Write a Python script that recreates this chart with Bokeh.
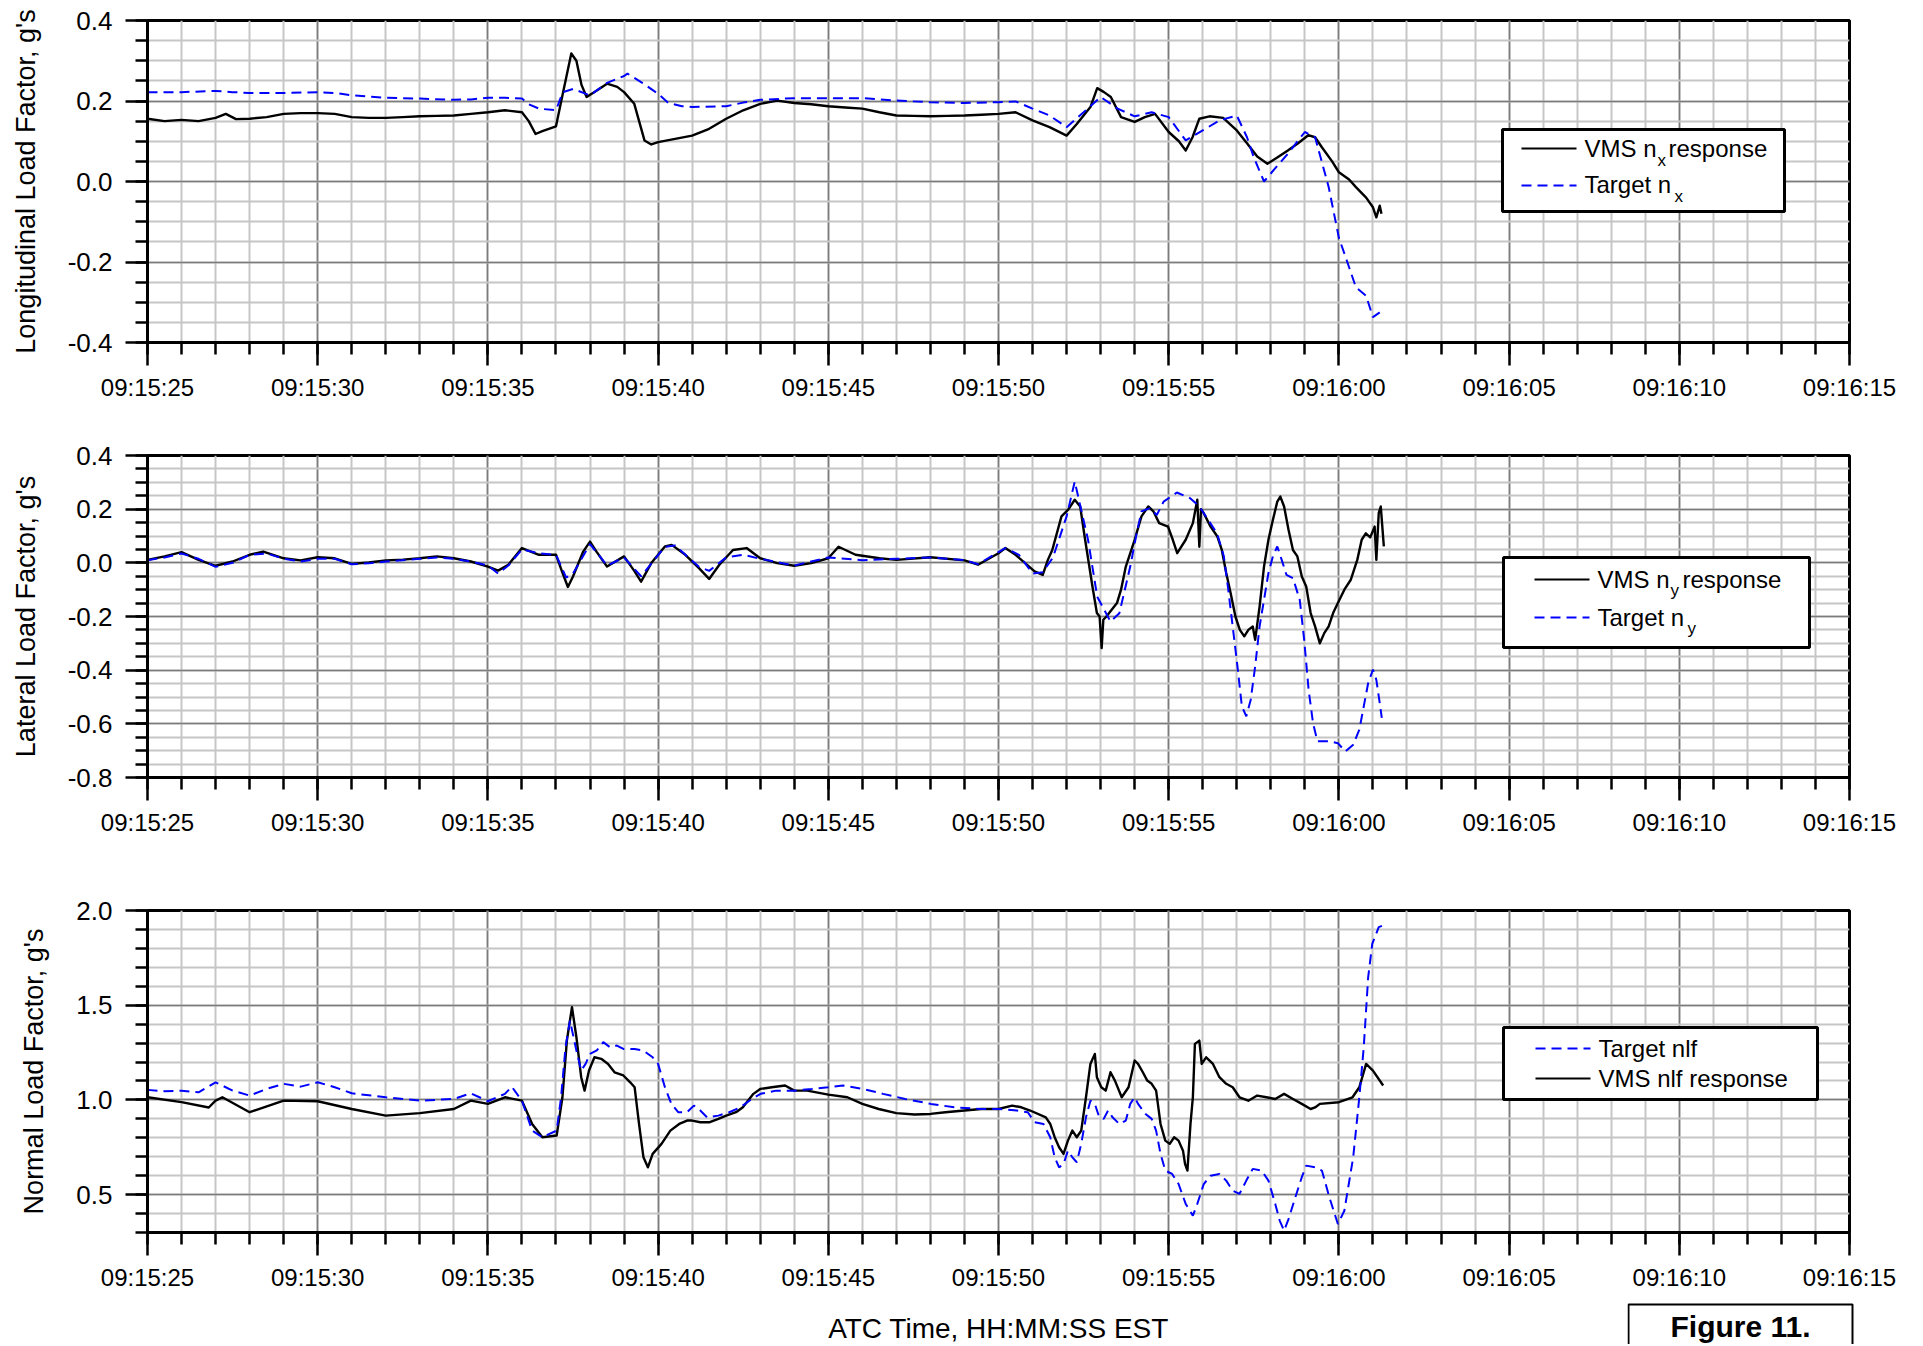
import numpy as np
from bokeh.plotting import figure
from bokeh.layouts import column, row
from bokeh.models import FixedTicker, Label, BoxAnnotation, Arrow
from bokeh.embed import file_html
from bokeh.resources import INLINE

FONT = "Liberation Sans"

# ---------------- data (time = seconds after 09:15:25) ----------------
x_ticks = [0, 5, 10, 15, 20, 25, 30, 35, 40, 45, 50]
x_tick_labels = ["09:15:25", "09:15:30", "09:15:35", "09:15:40", "09:15:45", "09:15:50",
                 "09:15:55", "09:16:00", "09:16:05", "09:16:10", "09:16:15"]

nx_y_ticks = [-0.4, -0.2, 0.0, 0.2, 0.4]
nx_y_labels = ["-0.4", "-0.2", "0.0", "0.2", "0.4"]
ny_y_ticks = [-0.8, -0.6, -0.4, -0.2, 0.0, 0.2, 0.4]
ny_y_labels = ["-0.8", "-0.6", "-0.4", "-0.2", "0.0", "0.2", "0.4"]
nz_y_ticks = [0.5, 1.0, 1.5, 2.0]
nz_y_labels = ["0.5", "1.0", "1.5", "2.0"]

nx_vms_t = [0.0, 0.5, 1.0, 1.5, 2.0, 2.3, 2.6, 3.0, 3.5, 4.0, 4.5, 5.0, 5.5, 6.0, 6.5, 7.0, 7.5, 8.0,
            8.5, 9.0, 9.5, 10.0, 10.5, 11.0, 11.2, 11.4, 11.6, 12.0, 12.2, 12.45, 12.6, 12.75, 12.9,
            13.2, 13.5, 13.8, 14.0, 14.3, 14.6, 14.8, 15.0, 15.5, 16.0, 16.5, 17.0, 17.5, 18.0, 18.5,
            19.0, 19.5, 20.0, 20.5, 21.0, 21.5, 22.0, 22.5, 23.0, 23.5, 24.0, 24.5, 25.0, 25.5, 26.0,
            26.5, 27.0, 27.3, 27.7, 27.9, 28.1, 28.3, 28.6, 29.0, 29.3, 29.6, 30.0, 30.3, 30.5, 30.7,
            30.9, 31.2, 31.6, 32.0, 32.3, 32.6, 32.9, 33.2, 33.5, 33.8, 34.1, 34.3, 34.5, 34.8, 35.0,
            35.3, 35.5, 35.8, 36.0, 36.1, 36.2, 36.25]
nx_vms = [0.156, 0.150, 0.153, 0.150, 0.158, 0.168, 0.155, 0.156, 0.160, 0.168, 0.170, 0.170, 0.168,
          0.160, 0.158, 0.158, 0.160, 0.162, 0.163, 0.164, 0.168, 0.172, 0.177, 0.172, 0.150, 0.118,
          0.125, 0.137, 0.218, 0.318, 0.300, 0.240, 0.210, 0.226, 0.243, 0.235, 0.222, 0.193, 0.102,
          0.092, 0.098, 0.106, 0.114, 0.131, 0.156, 0.177, 0.193, 0.201, 0.195, 0.192, 0.187, 0.184,
          0.181, 0.172, 0.164, 0.163, 0.162, 0.163, 0.164, 0.166, 0.168, 0.172, 0.152, 0.135, 0.114,
          0.143, 0.185, 0.232, 0.222, 0.210, 0.160, 0.148, 0.160, 0.168, 0.123, 0.100, 0.077, 0.110,
          0.156, 0.162, 0.158, 0.127, 0.095, 0.062, 0.044, 0.060, 0.077, 0.095, 0.115, 0.110, 0.085,
          0.050, 0.023, 0.005, -0.014, -0.040, -0.064, -0.089, -0.060, -0.080]

nx_tgt_t = [0.0, 1.0, 2.0, 2.5, 3.0, 4.0, 5.0, 5.5, 6.0, 7.0, 8.0, 9.0, 9.5, 10.0, 10.5, 11.0, 11.2,
            11.5, 12.0, 12.2, 12.5, 13.0, 13.5, 14.0, 14.1, 14.5, 15.0, 15.3, 15.7, 16.0, 17.0, 17.5,
            18.0, 19.0, 20.0, 21.0, 22.0, 23.0, 24.0, 25.0, 25.5, 26.0, 26.5, 27.0, 27.5, 28.0, 28.5,
            29.0, 29.5, 30.0, 30.5, 31.0, 31.5, 32.0, 32.3, 32.5, 32.8, 33.1, 33.5, 34.0, 34.3, 34.7,
            35.0, 35.3, 35.5, 35.8, 36.0, 36.2]
nx_tgt = [0.222, 0.222, 0.225, 0.222, 0.220, 0.220, 0.222, 0.220, 0.214, 0.208, 0.206, 0.203, 0.204,
          0.208, 0.208, 0.206, 0.192, 0.181, 0.177, 0.222, 0.230, 0.214, 0.245, 0.262, 0.268, 0.247,
          0.218, 0.195, 0.187, 0.185, 0.187, 0.196, 0.203, 0.207, 0.207, 0.207, 0.201, 0.197, 0.195,
          0.197, 0.199, 0.181, 0.164, 0.135, 0.172, 0.210, 0.181, 0.162, 0.172, 0.160, 0.102, 0.127,
          0.152, 0.164, 0.110, 0.060, 0.000, 0.030, 0.069, 0.123, 0.110, -0.014, -0.140, -0.213,
          -0.263, -0.284, -0.337, -0.325]

ny_vms_t = [0.0, 0.5, 1.0, 1.5, 2.0, 2.5, 3.0, 3.4, 4.0, 4.5, 5.0, 5.5, 6.0, 6.5, 7.0, 7.5, 8.0, 8.5,
            9.0, 9.5, 10.0, 10.3, 10.6, 11.0, 11.5, 12.0, 12.2, 12.35, 12.5, 12.8, 13.0, 13.2, 13.5,
            14.0, 14.3, 14.5, 14.8, 15.2, 15.4, 15.8, 16.2, 16.5, 16.8, 17.2, 17.6, 18.0, 18.5, 19.0,
            19.5, 20.0, 20.3, 20.8, 21.5, 22.0, 23.0, 24.0, 24.4, 25.0, 25.2, 25.5, 26.06, 26.3,
            26.45, 26.58, 26.85, 27.04, 27.24, 27.4, 27.53, 27.76, 27.89, 27.97, 28.03, 28.08, 28.17,
            28.48, 28.6, 28.74, 29.0, 29.2, 29.4, 29.55, 29.72, 29.98, 30.12, 30.25, 30.5, 30.71,
            30.84, 30.9, 30.95, 31.03, 31.23, 31.43, 31.56, 31.69, 31.82, 31.96, 32.09, 32.22, 32.34,
            32.47, 32.54, 32.67, 32.8, 32.93, 33.06, 33.19, 33.28, 33.39, 33.52, 33.65, 33.78, 33.91,
            34.04, 34.17, 34.3, 34.44, 34.57, 34.7, 34.83, 34.97, 35.16, 35.35, 35.54, 35.67, 35.79,
            35.92, 36.05, 36.1, 36.17, 36.23, 36.32]
ny_vms = [0.011, 0.024, 0.040, 0.011, -0.011, 0.005, 0.030, 0.042, 0.017, 0.009, 0.021, 0.017,
          -0.004, 0.001, 0.009, 0.012, 0.017, 0.024, 0.017, 0.005, -0.014, -0.029, -0.007, 0.055,
          0.030, 0.030, -0.040, -0.090, -0.051, 0.042, 0.079, 0.040, -0.014, 0.024, -0.030, -0.070,
          -0.001, 0.061, 0.067, 0.030, -0.020, -0.060, -0.007, 0.048, 0.055, 0.017, -0.001, -0.011,
          -0.001, 0.017, 0.060, 0.030, 0.017, 0.011, 0.021, 0.009, -0.007, 0.036, 0.055, 0.030,
          -0.032, -0.045, 0.011, 0.048, 0.173, 0.197, 0.235, 0.210, 0.098, -0.088, -0.187, -0.200,
          -0.318, -0.212, -0.200, -0.150, -0.100, -0.014, 0.086, 0.173, 0.210, 0.192, 0.148, 0.135,
          0.086, 0.036, 0.086, 0.148, 0.235, 0.060, 0.200, 0.185, 0.135, 0.098, 0.048, -0.038,
          -0.113, -0.200, -0.250, -0.274, -0.250, -0.237, -0.287, -0.163, -0.014, 0.086, 0.160,
          0.228, 0.247, 0.210, 0.123, 0.048, 0.024, -0.051, -0.088, -0.187, -0.237, -0.300, -0.262,
          -0.237, -0.187, -0.150, -0.100, -0.063, 0.011, 0.086, 0.110, 0.095, 0.135, 0.011, 0.185,
          0.210, 0.061]

ny_tgt_t = [0.0, 0.5, 1.0, 1.5, 2.0, 2.5, 3.0, 3.5, 4.0, 4.5, 5.0, 5.5, 6.0, 6.5, 7.0, 8.0, 8.5, 9.0,
            9.5, 10.0, 10.3, 10.6, 11.0, 11.5, 12.0, 12.3, 12.5, 13.0, 13.5, 14.0, 14.5, 15.2, 15.5,
            15.8, 16.2, 16.5, 17.0, 17.5, 18.0, 19.0, 20.0, 21.0, 22.0, 23.0, 24.0, 24.4, 25.2, 25.6,
            26.0, 26.3, 26.6, 27.0, 27.24, 27.63, 27.9, 28.29, 28.55, 28.87, 29.06, 29.2, 29.45,
            29.65, 29.85, 30.24, 30.63, 30.9, 31.16, 31.42, 31.62, 31.75, 31.88, 32.02, 32.15, 32.28,
            32.41, 32.54, 32.67, 32.8, 32.93, 33.06, 33.19, 33.32, 33.46, 33.65, 33.85, 33.98, 34.11,
            34.24, 34.37, 34.72, 34.97, 35.19, 35.42, 35.6, 35.73, 35.86, 36.0, 36.1, 36.2, 36.26]
ny_tgt = [0.010, 0.020, 0.035, 0.015, -0.015, 0.000, 0.030, 0.035, 0.015, 0.005, 0.015, 0.015,
          -0.005, -0.002, 0.005, 0.015, 0.020, 0.015, 0.005, -0.010, -0.040, -0.010, 0.050, 0.035,
          0.030, -0.055, -0.040, 0.070, -0.010, 0.020, -0.050, 0.060, 0.065, 0.030, -0.015, -0.030,
          0.020, 0.030, 0.015, -0.010, 0.020, 0.010, 0.015, 0.020, 0.010, -0.005, 0.055, 0.030,
          -0.040, -0.035, 0.020, 0.173, 0.303, 0.086, -0.126, -0.219, -0.188, -0.014, 0.111, 0.192,
          0.204, 0.178, 0.228, 0.262, 0.241, 0.210, 0.160, 0.110, 0.024, -0.100, -0.237, -0.386,
          -0.535, -0.572, -0.510, -0.386, -0.237, -0.138, -0.038, 0.024, 0.061, 0.011, -0.045, -0.057,
          -0.138, -0.287, -0.473, -0.597, -0.665, -0.665, -0.672, -0.703, -0.678, -0.622, -0.535,
          -0.448, -0.398, -0.436, -0.523, -0.578]

nz_vms_t = [0.0, 1.0, 1.8, 2.0, 2.2, 3.0, 4.0, 5.0, 6.0, 7.0, 8.0, 9.0, 9.5, 10.0, 10.5, 11.0, 11.3,
            11.6, 12.02, 12.19, 12.32, 12.47, 12.6, 12.74, 12.84, 12.97, 13.13, 13.33, 13.53, 13.72,
            13.98, 14.18, 14.31, 14.44, 14.57, 14.7, 14.84, 15.1, 15.36, 15.62, 15.85, 16.0, 16.24,
            16.5, 16.77, 17.0, 17.29, 17.49, 17.8, 18.0, 18.34, 18.73, 19.0, 19.38, 20.0, 20.56,
            21.0, 21.48, 22.0, 22.53, 23.0, 23.44, 24.0, 24.49, 25.0, 25.4, 25.67, 25.93, 26.39,
            26.52, 26.65, 26.78, 26.91, 27.04, 27.17, 27.3, 27.43, 27.57, 27.7, 27.83, 27.89, 28.02,
            28.15, 28.29, 28.42, 28.62, 28.82, 29.0, 29.1, 29.24, 29.37, 29.5, 29.63, 29.76, 29.9,
            30.03, 30.16, 30.29, 30.42, 30.48, 30.55, 30.64, 30.71, 30.77, 30.9, 30.97, 31.1, 31.3,
            31.49, 31.69, 31.88, 32.08, 32.34, 32.6, 32.87, 33.13, 33.39, 33.65, 33.91, 34.17, 34.3,
            34.44, 35.0, 35.4, 35.6, 35.8, 36.0, 36.3]
nz_vms = [1.014, 0.988, 0.960, 0.996, 1.014, 0.935, 0.996, 0.993, 0.952, 0.917, 0.930, 0.952, 0.996,
          0.979, 1.014, 0.996, 0.873, 0.803, 0.812, 1.014, 1.313, 1.490, 1.331, 1.120, 1.049, 1.155,
          1.225, 1.217, 1.190, 1.146, 1.129, 1.093, 1.067, 0.873, 0.697, 0.644, 0.715, 0.768, 0.838,
          0.873, 0.891, 0.891, 0.882, 0.882, 0.900, 0.917, 0.935, 0.961, 1.032, 1.058, 1.067, 1.076,
          1.049, 1.049, 1.028, 1.014, 0.979, 0.952, 0.930, 0.923, 0.926, 0.935, 0.944, 0.952, 0.952,
          0.970, 0.961, 0.944, 0.908, 0.873, 0.803, 0.750, 0.715, 0.785, 0.838, 0.803, 0.838, 1.014,
          1.190, 1.243, 1.120, 1.067, 1.049, 1.146, 1.102, 1.014, 1.067, 1.208, 1.190, 1.146, 1.102,
          1.085, 1.049, 0.873, 0.785, 0.768, 0.803, 0.785, 0.732, 0.662, 0.627, 0.873, 1.014, 1.296,
          1.313, 1.190, 1.225, 1.190, 1.120, 1.085, 1.067, 1.014, 0.996, 1.023, 1.014, 1.005, 1.032,
          1.005, 0.979, 0.952, 0.960, 0.979, 0.988, 1.014, 1.067, 1.190, 1.155, 1.076]

nz_tgt_t = [0.0, 0.5, 1.0, 1.5, 2.0, 2.5, 3.0, 3.5, 4.0, 4.5, 5.0, 5.5, 6.0, 7.0, 8.0, 9.0, 9.5, 10.0,
            10.5, 10.7, 11.0, 11.3, 11.6, 12.02, 12.15, 12.28, 12.41, 12.6, 12.74, 12.87, 13.0, 13.2,
            13.39, 13.59, 13.79, 13.98, 14.31, 14.57, 14.84, 15.0, 15.2, 15.39, 15.59, 15.85, 16.05,
            16.24, 16.44, 16.77, 17.09, 17.42, 17.75, 18.01, 18.47, 19.0, 19.52, 20.0, 20.43, 21.02,
            21.61, 22.26, 23.01, 23.7, 24.49, 25.0, 25.54, 25.86, 26.06, 26.32, 26.52, 26.65, 26.78,
            26.91, 27.04, 27.17, 27.3, 27.43, 27.57, 27.7, 27.83, 27.96, 28.09, 28.22, 28.35, 28.55,
            28.74, 28.87, 29.0, 29.1, 29.32, 29.5, 29.63, 29.76, 29.9, 30.1, 30.29, 30.5, 30.71,
            30.84, 31.03, 31.23, 31.49, 31.69, 31.88, 32.08, 32.28, 32.47, 32.73, 32.93, 33.13,
            33.26, 33.39, 33.52, 33.72, 33.91, 34.04, 34.3, 34.5, 34.72, 34.97, 35.16, 35.42, 35.6,
            35.73, 35.86, 35.98, 36.17, 36.3]
nz_tgt = [1.053, 1.046, 1.049, 1.040, 1.093, 1.049, 1.023, 1.058, 1.085, 1.070, 1.093, 1.067, 1.035,
          1.014, 0.996, 1.005, 1.035, 0.993, 1.032, 1.070, 0.996, 0.838, 0.803, 0.838, 1.014, 1.278,
          1.419, 1.261, 1.155, 1.190, 1.243, 1.261, 1.305, 1.278, 1.287, 1.269, 1.269, 1.260, 1.225,
          1.190, 1.067, 0.979, 0.935, 0.935, 0.970, 0.944, 0.908, 0.917, 0.935, 0.961, 1.005, 1.032,
          1.049, 1.049, 1.058, 1.067, 1.076, 1.058, 1.032, 1.005, 0.979, 0.961, 0.952, 0.952, 0.944,
          0.935, 0.882, 0.873, 0.803, 0.697, 0.644, 0.662, 0.732, 0.697, 0.671, 0.768, 0.908, 0.996,
          0.979, 0.908, 0.900, 0.944, 0.908, 0.873, 0.891, 0.979, 1.014, 0.979, 0.926, 0.900, 0.838,
          0.715, 0.627, 0.609, 0.556, 0.451, 0.389, 0.451, 0.556, 0.600, 0.609, 0.574, 0.521, 0.504,
          0.574, 0.636, 0.627, 0.574, 0.451, 0.363, 0.310, 0.371, 0.486, 0.592, 0.653, 0.644, 0.627,
          0.486, 0.345, 0.415, 0.697, 1.014, 1.278, 1.648, 1.824, 1.912, 1.921]

# ---------------- layout constants (page pixels, page has no margin) ----------------
FRAME_L = 147
FIG_W = 1920
BORDER_L = 147
BORDER_R = FIG_W - 147 - 1702
X_MINOR = list(range(0, 51))

BLACK = "#000000"
BLUE = "#0000ff"
DASH = "10 6"
VMS_W = 2.4


def base_shift(size_px):
    # Bokeh draws "alphabetic" labels lower than the nominal baseline; compensate
    return round(0.37 * size_px)


def make_panel(height, b_top, b_bottom, yr, yticks, ylabels, ystep, ylab):
    p = figure(width=FIG_W, height=height, x_range=(0, 50), y_range=yr,
               output_backend="svg", toolbar_location=None,
               min_border_left=BORDER_L, min_border_right=BORDER_R,
               min_border_top=b_top, min_border_bottom=b_bottom)
    p.background_fill_color = "white"
    p.border_fill_color = "white"
    p.outline_line_color = "black"
    p.outline_line_width = 3
    p.outline_line_alpha = 1.0

    n = int(round((yr[1] - yr[0]) / ystep))
    yminor = [round(yr[0] + i * ystep, 4) for i in range(n + 1)]
    xt = FixedTicker(ticks=x_ticks, minor_ticks=X_MINOR)
    yt = FixedTicker(ticks=yticks, minor_ticks=yminor)
    p.xaxis.ticker = xt
    p.yaxis.ticker = yt
    p.xgrid.ticker = xt
    p.ygrid.ticker = yt
    p.xaxis.major_label_overrides = {v: s for v, s in zip(x_ticks, x_tick_labels)}
    p.yaxis.major_label_overrides = {v: s for v, s in zip(yticks, ylabels)}

    for g in (p.xgrid, p.ygrid):
        g.grid_line_color = "#7c7c7c"
        g.grid_line_width = 1.6
        g.minor_grid_line_color = "#c6c6c6"
        g.minor_grid_line_width = 2

    for ax in (p.xaxis, p.yaxis):
        ax.axis_line_width = 3
        ax.axis_line_color = "black"
        ax.major_tick_line_width = 2.5
        ax.minor_tick_line_width = 2.5
        ax.major_tick_line_color = "black"
        ax.minor_tick_line_color = "black"
        ax.major_tick_in = 0
        ax.minor_tick_in = 0
        ax.major_label_text_font = FONT
        ax.major_label_text_color = "black"
        ax.axis_label_text_font = FONT
        ax.axis_label_text_font_style = "normal"
        ax.axis_label_text_font_size = "27px"
        ax.axis_label_text_color = "black"
    p.xaxis.major_tick_out = 23
    p.xaxis.minor_tick_out = 12
    p.yaxis.major_tick_out = 22
    p.yaxis.minor_tick_out = 12
    p.xaxis.major_label_text_font_size = "24px"
    p.yaxis.major_label_text_font_size = "26px"
    p.xaxis.major_label_standoff = 8
    p.yaxis.major_label_standoff = 13
    p.yaxis.axis_label = ylab
    p.yaxis.axis_label_standoff = 24
    return p


def add_legend(p, frame_bottom, box, line_x, rows):
    def sx(x):
        return x - FRAME_L

    def sy(y):
        return frame_bottom - y

    p.add_layout(BoxAnnotation(left=sx(box[0]), right=sx(box[1]), top=sy(box[2]), bottom=sy(box[3]),
                               left_units="screen", right_units="screen",
                               top_units="screen", bottom_units="screen",
                               fill_color="white", fill_alpha=1.0,
                               line_color="black", line_width=3, line_alpha=1.0))
    for (ly, color, dash, pieces) in rows:
        p.add_layout(Arrow(x_start=sx(line_x[0]), y_start=sy(ly), x_end=sx(line_x[1]), y_end=sy(ly),
                           start_units="screen", end_units="screen", start=None, end=None,
                           line_color=color, line_width=2, line_dash=dash))
        for (txt, tx, base, size) in pieces:
            p.add_layout(Label(x=sx(tx), y=sy(base) + base_shift(size), x_units="screen",
                               y_units="screen", text=txt,
                               text_font=FONT, text_font_size=f"{size}px", text_color="black",
                               text_align="left", text_baseline="alphabetic"))


# ---------------- panel 1: longitudinal ----------------
p1 = make_panel(435, 20, 93, (-0.4, 0.4), nx_y_ticks, nx_y_labels, 0.05,
                "Longitudinal Load Factor, g's")
p1.line(nx_vms_t, nx_vms, line_color=BLACK, line_width=VMS_W, line_join="round")
p1.line(nx_tgt_t, nx_tgt, line_color=BLUE, line_width=2, line_dash=DASH)
add_legend(p1, 342, (1502, 1784, 129, 211), (1521, 1576), [
    (148, BLACK, "solid", [("VMS n", 1584, 157, 24), ("x", 1657, 166, 17),
                           ("response", 1668, 157, 24)]),
    (185, BLUE, DASH, [("Target n", 1584, 193, 24), ("x", 1674, 202, 17)]),
])

# ---------------- panel 2: lateral ----------------
p2 = make_panel(455, 20, 113, (-0.8, 0.4), ny_y_ticks, ny_y_labels, 0.05,
                "Lateral Load Factor, g's")
p2.line(ny_vms_t, ny_vms, line_color=BLACK, line_width=VMS_W, line_join="round")
p2.line(ny_tgt_t, ny_tgt, line_color=BLUE, line_width=2, line_dash=DASH)
add_legend(p2, 777, (1503, 1809, 557, 647), (1534, 1589), [
    (579, BLACK, "solid", [("VMS n", 1597, 588, 24), ("y", 1670, 596, 17),
                           ("response", 1682, 588, 24)]),
    (617, BLUE, DASH, [("Target n", 1597, 626, 24), ("y", 1687, 634, 17)]),
])

# ---------------- panel 3: normal ----------------
p3 = make_panel(410, 20, 68, (0.3, 2.0), nz_y_ticks, nz_y_labels, 0.1,
                "Normal Load Factor, g's")
p3.line(nz_vms_t, nz_vms, line_color=BLACK, line_width=VMS_W, line_join="round")
p3.line(nz_tgt_t, nz_tgt, line_color=BLUE, line_width=2, line_dash=DASH)
add_legend(p3, 1232, (1503, 1817, 1027, 1099), (1535, 1590), [
    (1048, BLUE, DASH, [("Target nlf", 1598, 1057, 24)]),
    (1078, BLACK, "solid", [("VMS nlf response", 1598, 1087, 24)]),
])

# ---------------- bottom strip: x-axis title and figure tag ----------------
STRIP_TOP = 1300
STRIP_H = 44          # page y 1300 .. 1344
TAG_L = 1627


def blank(width):
    f = figure(width=width, height=STRIP_H, x_range=(0, 1), y_range=(0, 1),
               output_backend="svg", toolbar_location=None,
               x_axis_location=None, y_axis_location=None,
               min_border_left=0, min_border_right=0, min_border_top=0, min_border_bottom=0)
    f.grid.visible = False
    f.outline_line_color = None
    f.background_fill_color = "white"
    f.border_fill_color = "white"
    return f


f_title = blank(TAG_L)
f_title.add_layout(Label(x=998, y=STRIP_H - (1338 - STRIP_TOP) + base_shift(28),
                         x_units="screen", y_units="screen",
                         text="ATC Time, HH:MM:SS EST", text_font=FONT, text_font_size="28px",
                         text_color="black", text_align="center", text_baseline="alphabetic"))

f_tag = blank(FIG_W - TAG_L)
f_tag.add_layout(BoxAnnotation(left=1, right=225, top=STRIP_H - 4, bottom=-20,
                               left_units="screen", right_units="screen",
                               top_units="screen", bottom_units="screen",
                               fill_alpha=0.0, line_color="black", line_width=2, line_alpha=1.0))
f_tag.add_layout(Label(x=113, y=STRIP_H - (1337 - STRIP_TOP) + base_shift(30),
                       x_units="screen", y_units="screen",
                       text="Figure 11.", text_font=FONT, text_font_size="30px",
                       text_font_style="bold", text_color="black",
                       text_align="center", text_baseline="alphabetic"))

layout = column(p1, p2, p3, row(f_title, f_tag, spacing=0), spacing=0)
open("out.html", "w").write(file_html(layout, INLINE))
